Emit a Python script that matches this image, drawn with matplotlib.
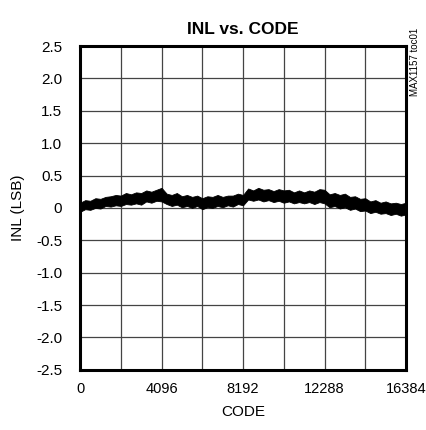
import matplotlib
matplotlib.use("Agg")
import matplotlib.pyplot as plt
import numpy as np

plt.rcParams['font.family'] = ['Liberation Sans', 'DejaVu Sans']

# INL band (LSB), top and bottom of the noisy trace every 256 codes
codes = list(range(0, 16385, 256))
inl_upper = [0.08, 0.12, 0.11, 0.15, 0.14, 0.17, 0.18, 0.20, 0.19, 0.23, 0.21, 0.24, 0.23, 0.27, 0.25, 0.28, 0.31,
             0.22, 0.20, 0.23, 0.18, 0.20, 0.17, 0.19, 0.15, 0.18, 0.17, 0.20, 0.17, 0.19, 0.19, 0.22, 0.20,
             0.30, 0.27, 0.31, 0.28, 0.29, 0.26, 0.29, 0.27, 0.28, 0.24, 0.27, 0.24, 0.27, 0.25, 0.29, 0.28,
             0.21, 0.23, 0.20, 0.22, 0.17, 0.18, 0.14, 0.15, 0.10, 0.12, 0.08, 0.10, 0.07, 0.08, 0.06, 0.08]
inl_lower = [-0.06, -0.02, -0.03, 0.00, -0.01, 0.03, 0.02, 0.04, 0.03, 0.06, 0.05, 0.07, 0.05, 0.10, 0.08, 0.11, 0.10,
             0.06, 0.03, 0.05, 0.01, 0.03, 0.00, 0.03, -0.02, 0.01, 0.00, 0.03, 0.01, 0.04, 0.02, 0.06, 0.04,
             0.13, 0.11, 0.13, 0.10, 0.12, 0.09, 0.11, 0.08, 0.10, 0.07, 0.09, 0.07, 0.09, 0.06, 0.09, 0.07,
             0.01, 0.03, -0.01, 0.01, -0.03, -0.01, -0.05, -0.04, -0.08, -0.06, -0.09, -0.08, -0.11, -0.09, -0.12, -0.10]

xticks = [0, 4096, 8192, 12288, 16384]
yticks = [2.5, 2.0, 1.5, 1.0, 0.5, 0, -0.5, -1.0, -1.5, -2.0, -2.5]
ylabels = ["2.5", "2.0", "1.5", "1.0", "0.5", "0", "-0.5", "-1.0", "-1.5", "-2.0", "-2.5"]

fig = plt.figure(figsize=(4.26, 4.30), dpi=100)
ax = fig.add_axes([0.188, 0.14, 0.765, 0.753])

ax.fill_between(codes, inl_lower, inl_upper, color="black", linewidth=0.6)

ax.set_xlim(0, 16384)
ax.set_ylim(-2.5, 2.5)
ax.set_xticks(np.arange(0, 16385, 2048))
ax.set_xticklabels([str(c) if c in xticks else "" for c in range(0, 16385, 2048)])
ax.set_yticks(yticks)
ax.set_yticklabels(ylabels)
ax.tick_params(axis="x", length=0, labelsize=10.5, pad=9)
ax.tick_params(axis="y", length=0, labelsize=11, pad=13)
ax.grid(True, color="#444444", linewidth=0.9)
ax.set_axisbelow(True)
for s in ax.spines.values():
    s.set_linewidth(2.2)

ax.set_xlabel("CODE", fontsize=11, labelpad=6)
ax.set_ylabel("INL (LSB)", fontsize=11, labelpad=8)
ax.set_title("INL vs. CODE", fontsize=12.5, fontweight="bold", pad=9)

fig.text(0.962, 0.935, "MAX1157 toc01", rotation=90, fontsize=7, ha="left", va="top")

fig.savefig("out.png", dpi=100)
